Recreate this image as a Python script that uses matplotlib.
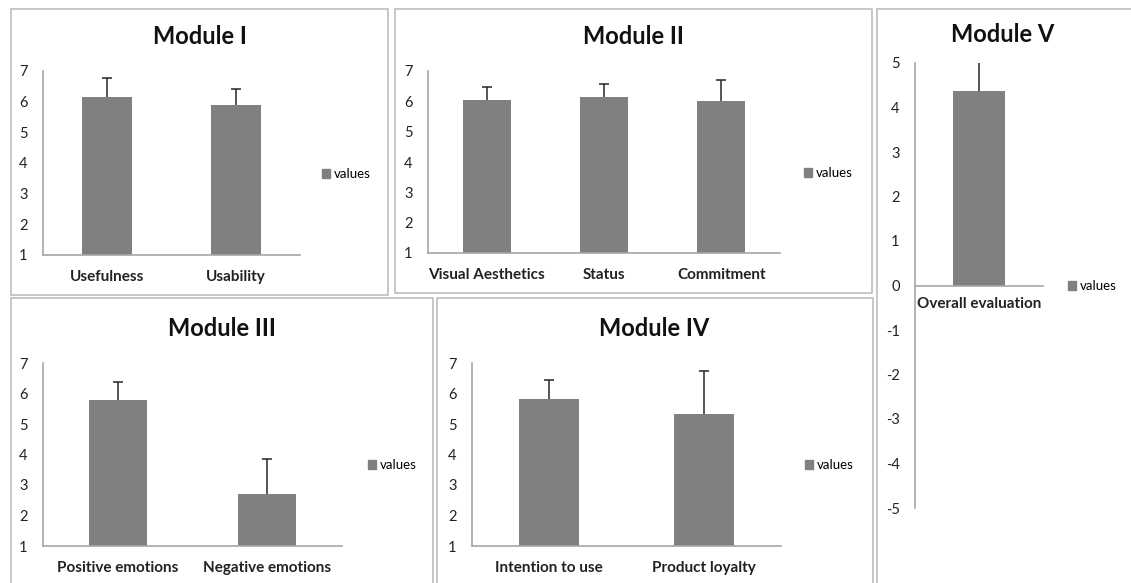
import numpy as np
import matplotlib
matplotlib.use("Agg")
import matplotlib.pyplot as plt
from matplotlib.patches import Rectangle, Patch

# -- Data ----------------------------------------------------------------------

mod1_cats = ["Usefulness", "Usability"]
mod1_vals = [6.15, 5.88]
mod1_err  = [0.62, 0.53]

mod2_cats = ["Visual Aesthetics", "Status", "Commitment"]
mod2_vals = [6.06, 6.13, 6.02]
mod2_err  = [0.42, 0.44, 0.69]

mod3_cats = ["Positive emotions", "Negative emotions"]
mod3_vals = [5.79, 2.70]
mod3_err  = [0.59, 1.15]

mod4_cats = ["Intention to use", "Product loyalty"]
mod4_vals = [5.82, 5.33]
mod4_err  = [0.62, 1.41]

mod5_cats = ["Overall evaluation"]
mod5_vals = [4.38]
mod5_err  = [0.70]

# -- Style ---------------------------------------------------------------------

W, H = 1131, 583
BAR_COLOR   = "#808080"
AXIS_COLOR  = "#a6a6a6"
FRAME_COLOR = "#bdbdbd"
FONT = "Lato"

plt.rcParams["font.family"] = [FONT, "DejaVu Sans"]

fig = plt.figure(figsize=(W / 100, H / 100), dpi=100)
fig.patch.set_facecolor("white")


def fx(px):
    return px / W


def fy(py):
    return 1 - py / H


def frame(x0, y0, x1, y1):
    fig.patches.append(Rectangle((fx(x0), fy(y1)), fx(x1 - x0), (y1 - y0) / H,
                                 transform=fig.transFigure, fill=False,
                                 edgecolor=FRAME_COLOR, linewidth=1.2))


def panel(cats, vals, errs, box, ylim, yticks, width, title, title_xy, legend_xy,
          zero_axis=False, xpad=11):
    left, top, right, bottom = box
    ax = fig.add_axes([fx(left), fy(bottom), fx(right - left), (bottom - top) / H])
    # spine position must be set first: it resets the tick styling
    if zero_axis:
        ax.spines["bottom"].set_position(("data", 0))
    x = np.arange(len(cats))
    base = 0 if zero_axis else ylim[0]
    ax.bar(x, np.array(vals) - base, bottom=base, width=width, color=BAR_COLOR,
           zorder=2)
    # one-sided (upper) error bars, as in the original Excel chart
    _, caps, _ = ax.errorbar(x, vals, yerr=[np.zeros(len(vals)), errs], fmt="none",
                             ecolor="#262626", elinewidth=1.1, capsize=3.5,
                             capthick=1.1, zorder=3)
    caps[0].set_visible(False)
    ax.set_xlim(-0.5, len(cats) - 0.5)
    ax.set_ylim(*ylim)
    ax.set_yticks(yticks)
    ax.set_yticklabels([str(t) for t in yticks], fontsize=10.5, color="#222222")
    ax.set_xticks(x)
    ax.set_xticklabels(cats, fontsize=11, fontweight="bold", color="#222222")
    ax.tick_params(axis="y", length=0, pad=11)
    ax.tick_params(axis="x", length=0, pad=xpad)
    for s in ["top", "right"]:
        ax.spines[s].set_visible(False)
    for s in ["left", "bottom"]:
        ax.spines[s].set_color(AXIS_COLOR)
        ax.spines[s].set_linewidth(1.2)
    ax.patch.set_alpha(0)

    fig.text(fx(title_xy[0]), fy(title_xy[1]), title, ha="center", va="center",
             fontsize=17, fontweight="bold", color="#111111")
    ax.legend(handles=[Patch(color=BAR_COLOR, label="values")],
              loc="center left", bbox_to_anchor=(fx(legend_xy[0]), fy(legend_xy[1])),
              bbox_transform=fig.transFigure, frameon=False, fontsize=9.5,
              handlelength=0.6, handleheight=0.6, handletextpad=0.3,
              borderpad=0, borderaxespad=0)
    return ax


# -- Panel frames --------------------------------------------------------------

frame(11, 9, 388, 295)
frame(395, 9, 872, 293)
frame(877, 9, 1136, 590)
frame(11, 298, 433, 590)
frame(437, 298, 873, 590)

# -- Panels --------------------------------------------------------------------

one_to_seven = [1, 2, 3, 4, 5, 6, 7]

panel(mod1_cats, mod1_vals, mod1_err, (43, 71, 300, 255), (1, 7), one_to_seven,
      0.39, "Module I", (200, 36), (322, 174))
panel(mod2_cats, mod2_vals, mod2_err, (428, 71, 780, 253), (1, 7), one_to_seven,
      0.41, "Module II", (633, 36), (804, 173))
panel(mod3_cats, mod3_vals, mod3_err, (43, 363, 342, 546), (1, 7), one_to_seven,
      0.39, "Module III", (222, 328), (368, 465))
panel(mod4_cats, mod4_vals, mod4_err, (472, 363, 781, 546), (1, 7), one_to_seven,
      0.39, "Module IV", (654, 328), (805, 465))
panel(mod5_cats, mod5_vals, mod5_err, (915, 63, 1043, 508), (-5, 5),
      list(range(-5, 6)), 0.40, "Module V", (1003, 34), (1068, 286),
      zero_axis=True, xpad=8)

fig.savefig("out.png", dpi=100)
